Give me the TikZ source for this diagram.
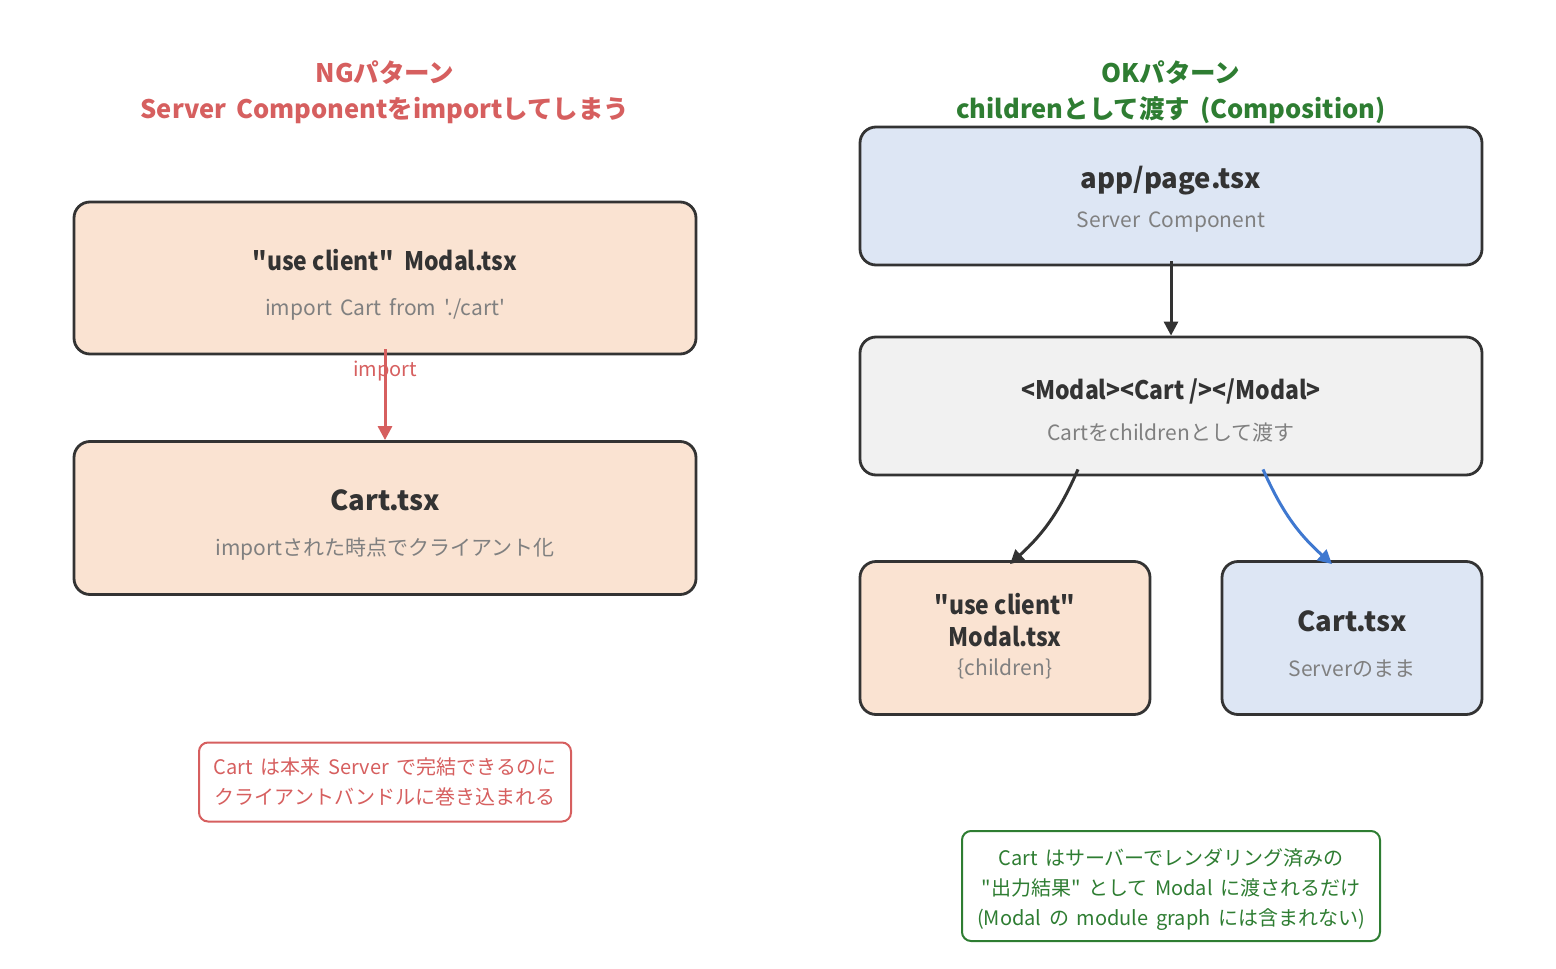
\documentclass[tikz,border=0pt]{standalone}
\usepackage{fontspec}
\setmainfont{Noto Sans CJK JP}[Ligatures=TeXOff]
\newfontfamily\spacedfont{Noto Sans CJK JP}[Ligatures=TeXOff, WordSpace=1.7]
\newfontfamily\narrowfont{Noto Sans CJK JP}[Ligatures=TeXOff, FakeStretch=0.9]
\usetikzlibrary{arrows.meta}

\definecolor{ngred}{HTML}{D65F5F}
\definecolor{okgreen}{HTML}{2E7D32}
\definecolor{clientfill}{HTML}{FAE3D2}
\definecolor{serverfill}{HTML}{DDE6F4}
\definecolor{midfill}{HTML}{F1F1F1}
\definecolor{edgedark}{HTML}{333333}
\definecolor{subgray}{HTML}{808080}
\definecolor{childblue}{HTML}{3F78D0}

\tikzset{
  compbox/.style={draw=edgedark, line width=2.8pt, rounded corners=16pt, inner sep=0pt},
  boxtitle/.style={font=\fontsize{27.5}{32}\selectfont\bfseries, text=edgedark, align=center},
  narrowtitle/.style={boxtitle, font=\narrowfont\fontsize{25.5}{32}\selectfont\bfseries},
  boxsub/.style={font=\spacedfont\fontsize{21}{24}\selectfont, text=subgray},
  notebox/.style={draw, line width=2pt, rounded corners=9pt, align=center, inner sep=0pt, font=\spacedfont\fontsize{20}{30}\selectfont},
  pattitle/.style={font=\spacedfont\fontsize{25.5}{36}\selectfont\bfseries, align=center},
  flow/.style={line width=3pt, -{Triangle[length=14pt,width=14pt]}},
}

\begin{document}
\begin{tikzpicture}[x=1pt,y=-1pt]
  \useasboundingbox (0,0) rectangle (1556,969);

  % NG 左边
  \node[pattitle, text=ngred] (ngtitle) at (385,92) {NGパターン\\Server Componentをimportしてしまう};
  \node[compbox, fill=clientfill, minimum width=622pt, minimum height=152pt] (ngmodal) at (385,278) {};
  \node[narrowtitle] (ngmodalname) at ([yshift=18]ngmodal.center) {"use client"\ \ Modal.tsx};
  \node[boxsub] (ngmodalsub) at ([yshift=-31]ngmodal.center) {import Cart from './cart'};
  \node[compbox, fill=clientfill, minimum width=622pt, minimum height=153pt] (ngcart) at (385,518) {};
  \node[boxtitle] (ngcartname) at ([yshift=18]ngcart.center) {Cart.tsx};
  \node[boxsub] (ngcartsub) at ([yshift=-31]ngcart.center) {importされた時点でクライアント化};

  % import 箭头
  \draw[flow, ngred] ([yshift=6]ngmodal.south) -- (ngcart.north)
    node[pos=0.24, font=\spacedfont\fontsize{20}{24}\selectfont] {import};

  % NG 注释
  \node[notebox, draw=ngred, text=ngred, minimum width=372pt, minimum height=79pt] (ngnote) at (385,782)
    {Cart は本来 Server で完結できるのに\\クライアントバンドルに巻き込まれる};

  % OK 右边
  \node[pattitle, text=okgreen] (oktitle) at (1171,92) {OKパターン\\childrenとして渡す (Composition)};
  \node[compbox, fill=serverfill, minimum width=622pt, minimum height=138pt] (okpage) at (1171,196) {};
  \node[boxtitle] (okpagename) at ([yshift=15]okpage.center) {app/page.tsx};
  \node[boxsub] (okpagesub) at ([yshift=-26]okpage.center) {Server Component};
  \node[compbox, fill=midfill, minimum width=622pt, minimum height=138pt] (okparent) at (1171,406) {};
  \node[narrowtitle] (okparentname) at ([yshift=15]okparent.center) {<Modal><Cart /></Modal>};
  \node[boxsub] (okparentsub) at ([yshift=-27]okparent.center) {Cartをchildrenとして渡す};
  \node[compbox, fill=clientfill, minimum width=290pt, minimum height=153pt] (okmodal) at (1005,638) {};
  \node[narrowtitle] (okmodalname) at ([yshift=18]okmodal.center) {"use client"\\Modal.tsx};
  \node[boxsub] (okmodalsub) at ([yshift=-31]okmodal.center) {\{children\}};
  \node[compbox, fill=serverfill, minimum width=260pt, minimum height=153pt] (okcart) at (1352,638) {};
  \node[boxtitle] (okcartname) at ([yshift=17]okcart.center) {Cart.tsx};
  \node[boxsub] (okcartsub) at ([yshift=-31]okcart.center) {Serverのまま};

  % 箭头
  \draw[flow, edgedark] ([yshift=5]okpage.south) -- (okparent.north);
  \draw[flow, edgedark] ([xshift=-93,yshift=7]okparent.south) to[bend left=12] ([xshift=5,yshift=-4]okmodal.north);
  \draw[flow, childblue] ([xshift=92,yshift=7]okparent.south) to[bend right=12] ([xshift=-20,yshift=-4]okcart.north);

  % OK 注释
  \node[notebox, draw=okgreen, text=okgreen, minimum width=418pt, minimum height=110pt] (oknote) at (1171,886)
    {\rule{0pt}{24pt}Cart はサーバーでレンダリング済みの\\"出力結果" として Modal に渡されるだけ\\(Modal の module graph には含まれない)};
\end{tikzpicture}
\end{document}
